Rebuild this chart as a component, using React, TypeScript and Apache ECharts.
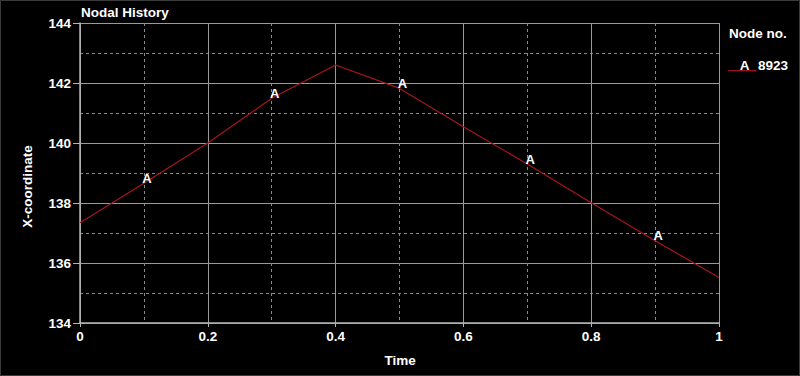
import React, { useEffect, useRef } from "react";
import * as echarts from "echarts";

const times = [0, 0.1, 0.2, 0.3, 0.4, 0.5, 0.6, 0.7, 0.8, 0.9, 1.0];
const xCoord = [137.34, 138.66, 140.0, 141.49, 142.6, 141.82, 140.54, 139.3, 138.01, 136.74, 135.52];
const markerIdx = [1, 3, 5, 7, 9];
const nodeId = "8923";
const markerLetter = "A";
const yTicks = { min: 134, max: 144, interval: 2 };
const xTicks = { min: 0, max: 1, interval: 0.2 };

const FONT = "'Liberation Sans', Arial, sans-serif";
const LINE_COLOR = "#a8141f";

export default function App() {
  const ref = useRef<HTMLDivElement>(null);
  useEffect(() => {
    document.body.style.margin = "0";
    document.body.style.background = "#000";
    const chart = echarts.init(ref.current!, null, { renderer: "svg" });
    const labelStyle = { color: "#fff", fontWeight: "bold" as const, fontSize: 13.5, fontFamily: FONT };
    chart.setOption({
      animation: false,
      backgroundColor: "#000",
      grid: { left: 80, right: 81, top: 23, bottom: 53 },
      xAxis: {
        type: "value",
        min: xTicks.min,
        max: xTicks.max,
        interval: xTicks.interval,
        axisLine: { show: true, onZero: false, lineStyle: { color: "#b4b4b4", width: 1.5 } },
        axisTick: { show: true, length: 4, lineStyle: { color: "#b4b4b4" } },
        axisLabel: { ...labelStyle, margin: 6 },
        splitLine: { show: true, lineStyle: { color: "#9a9a9a", width: 1 } },
        minorTick: { show: false, splitNumber: 2 },
        minorSplitLine: { show: true, lineStyle: { color: "#8a8a8a", type: [3, 3], width: 1 } },
      },
      yAxis: {
        type: "value",
        min: yTicks.min,
        max: yTicks.max,
        interval: yTicks.interval,
        axisLine: { show: true, lineStyle: { color: "#b4b4b4", width: 1.5 } },
        axisTick: { show: true, length: 7, lineStyle: { color: "#b4b4b4" } },
        axisLabel: { ...labelStyle, margin: 9 },
        splitLine: { show: true, lineStyle: { color: "#9a9a9a", width: 1 } },
        minorTick: { show: false, splitNumber: 2 },
        minorSplitLine: { show: true, lineStyle: { color: "#8a8a8a", type: [3, 3], width: 1 } },
      },
      series: [
        {
          type: "line",
          name: nodeId,
          data: times.map((t, i) => [t, xCoord[i]]),
          symbol: "none",
          lineStyle: { color: LINE_COLOR, width: 1.2 },
          z: 3,
        },
        {
          type: "scatter",
          data: markerIdx.map((i) => [times[i], xCoord[i]]),
          symbol: "circle",
          symbolSize: 1,
          itemStyle: { color: "rgba(0,0,0,0)", opacity: 1 },
          label: {
            show: true,
            formatter: markerLetter,
            position: "top",
            distance: -2,
            offset: [3, 0],
            color: "#ffffff",
            opacity: 1,
            fontWeight: "bold",
            fontSize: 13,
            fontFamily: FONT,
            textBorderWidth: 0,
          },
          z: 4,
        },
      ],
      graphic: [
        { type: "rect", shape: { x: 0.5, y: 0.5, width: 799, height: 375 }, style: { fill: "none", stroke: "#3a3a3a", lineWidth: 1 }, silent: true },
        { type: "text", left: 81, top: 5, style: { text: "Nodal History", fill: "#fff", font: `bold 13.5px ${FONT}` } },
        { type: "text", x: 400, y: 360.5, style: { text: "Time", fill: "#fff", font: `bold 13.5px ${FONT}`, textAlign: "center", textVerticalAlign: "middle" } },
        { type: "text", x: 27.5, y: 186.5, rotation: Math.PI / 2, style: { text: "X-coordinate", fill: "#fff", font: `bold 13.5px ${FONT}`, textAlign: "center", textVerticalAlign: "middle" } },
        { type: "text", x: 729, y: 33.5, style: { text: "Node no.", fill: "#fff", font: `bold 13.5px ${FONT}`, textVerticalAlign: "middle" } },
        { type: "line", shape: { x1: 728, y1: 70.7, x2: 756.5, y2: 70.7 }, style: { stroke: LINE_COLOR, lineWidth: 1.2 } },
        { type: "text", x: 744.5, y: 65.5, style: { text: markerLetter, fill: "#fff", font: `bold 13.5px ${FONT}`, textAlign: "center", textVerticalAlign: "middle" } },
        { type: "text", x: 758, y: 65, style: { text: nodeId, fill: "#fff", font: `bold 13.5px ${FONT}`, textVerticalAlign: "middle" } },
      ],
    });
    return () => chart.dispose();
  }, []);
  return <div ref={ref} style={{ width: 800, height: 376, background: "#000" }} />;
}
